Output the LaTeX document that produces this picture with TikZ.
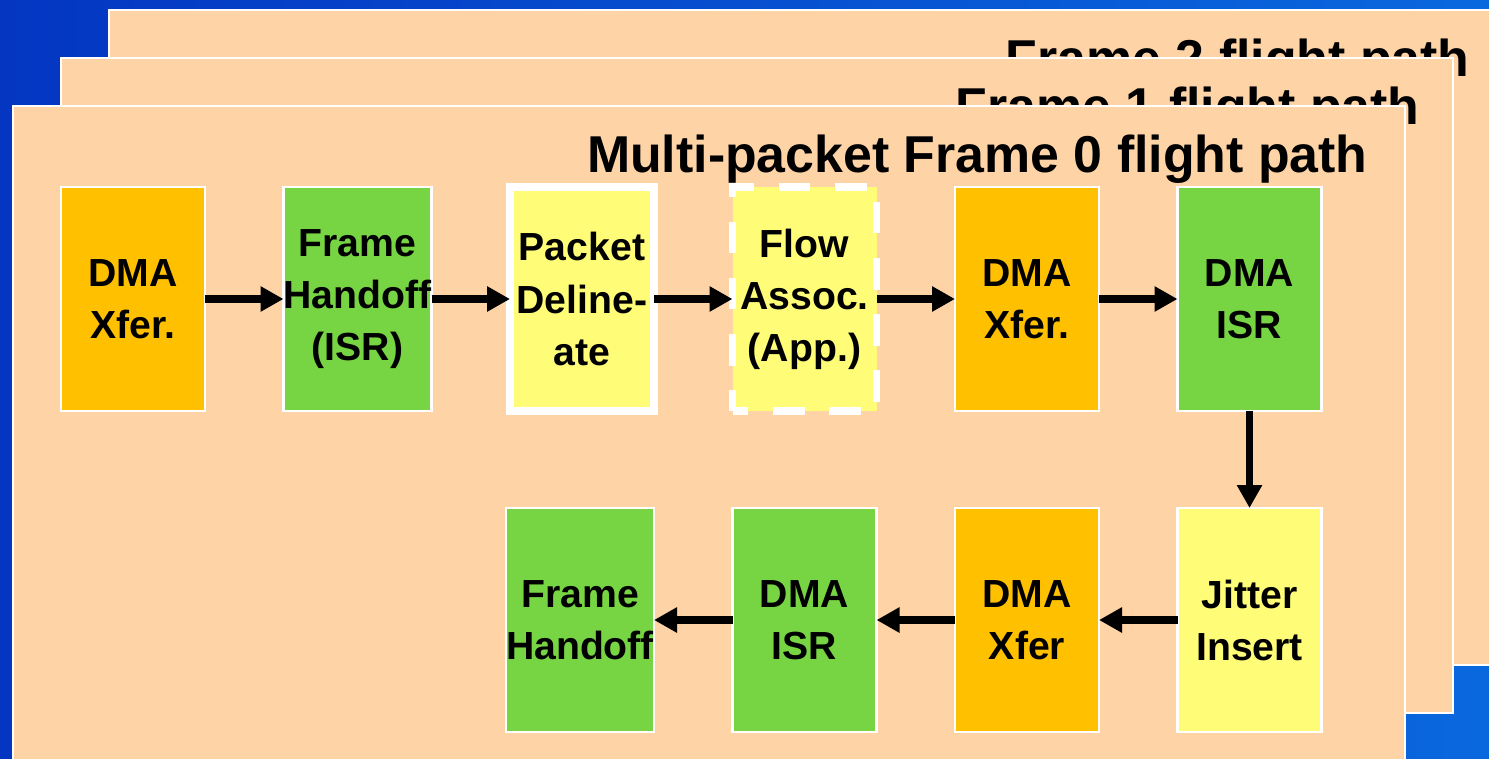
\documentclass[tikz,border=0pt]{standalone}
\usepackage{fontspec}
\setmainfont{Liberation Sans}
\usepackage{xcolor}
\usepackage{tikz}
\usetikzlibrary{
  arrows.meta,
  positioning
}
\definecolor{SlideBlueDark}{HTML}{0436C2}
\definecolor{SlideBlueLight}{HTML}{0A68DE}
\definecolor{PanelPeach}{HTML}{FED3A6}
\definecolor{XferOrange}{HTML}{FFC000}
\definecolor{IsrGreen}{HTML}{77D443}
\definecolor{AppYellow}{HTML}{FFFC78}
\tikzset{
  panel/.style={
    draw=white,
    line width=1.2pt,
    fill=PanelPeach
  },
  paneltitle/.style={
    anchor=base east,
    inner sep=0pt,
    font=\bfseries\fontsize{29.5}{32}\selectfont
  },
  stage/.style={
    draw=white,
    line width=1.2pt,
    align=center,
    inner sep=0pt,
    outer sep=0pt,
    minimum width=2.88cm,
    minimum height=4.48cm,
    font=\bfseries\fontsize{22.3}{29.6}\selectfont
  },
  xfer/.style={
    stage,
    fill=XferOrange
  },
  isr/.style={
    stage,
    fill=IsrGreen
  },
  app/.style={
    stage,
    fill=AppYellow
  },
  flow/.style={
    -{Triangle[length=0.46cm,width=0.48cm]},
    line width=4.5pt
  }
}

\begin{document}
\begin{tikzpicture}[node distance=1.94cm and 1.57cm]

  \useasboundingbox (0,0) rectangle (29.78,-15.18);
  \clip (0,0) rectangle (29.78,-15.18);
  \shade[left color=SlideBlueDark, right color=SlideBlueLight]
    (0,0) rectangle (29.78,-15.18);

  % stacked frames, back to front
  \draw[panel] (2.18,-0.2) rectangle (30.02,-13.3);
  \node[paneltitle] (title2) at (29.4,-1.52) {Frame 2 flight path};

  \draw[panel] (1.22,-1.16) rectangle (29.06,-14.26);
  \node[paneltitle] (title1) at (28.4,-2.48) {Frame 1 flight path};

  \draw[panel] (0.26,-2.12) rectangle (28.1,-15.22);
  \node[paneltitle] (title0) at (27.36,-3.44) {Multi-packet Frame 0 flight path};

  % top row
  \node[xfer] (dmaxfer) at (2.66,-5.98) {DMA\\Xfer.};
  \node[isr, right=of dmaxfer] (handoff) {Frame\\Handoff\\(ISR)};
  \node[app, right=of handoff, line width=4.5pt] (delineate) {Packet\\Deline-\\ate};
  \node[app, right=of delineate, line width=4pt,
    dash pattern=on 18pt off 14pt, dash phase=9pt] (flowassoc) {Flow\\Assoc.\\(App.)};
  \node[xfer, right=of flowassoc] (dmaxfer2) {DMA\\Xfer.};
  \node[isr, right=of dmaxfer2] (dmaisr) {DMA\\ISR};

  % bottom row, right to left
  \node[app, below=of dmaisr] (jitter) {Jitter\\Insert};
  \node[xfer, left=of jitter] (dmaxfer3) {DMA\\Xfer};
  \node[isr, left=of dmaxfer3] (dmaisr2) {DMA\\ISR};
  \node[isr, left=of dmaisr2] (handoff2) {Frame\\Handoff};

  \draw[flow] (dmaxfer) -- (handoff);
  \draw[flow] (handoff) -- (delineate);
  \draw[flow] (delineate) -- (flowassoc);
  \draw[flow] (flowassoc) -- (dmaxfer2);
  \draw[flow] (dmaxfer2) -- (dmaisr);
  \draw[flow] (dmaisr) -- (jitter);
  \draw[flow] (jitter) -- (dmaxfer3);
  \draw[flow] (dmaxfer3) -- (dmaisr2);
  \draw[flow] (dmaisr2) -- (handoff2);

\end{tikzpicture}
\end{document}
